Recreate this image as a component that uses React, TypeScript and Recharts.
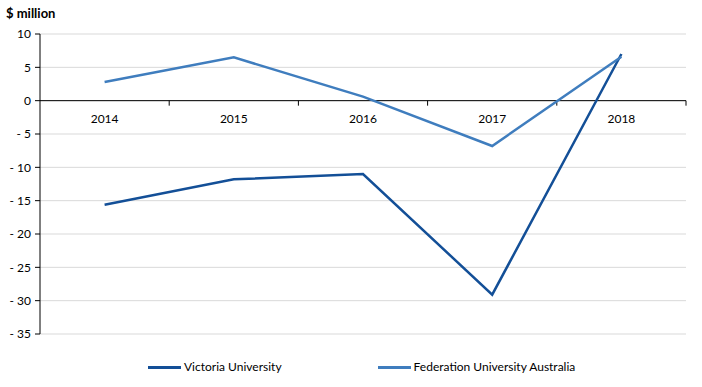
import { LineChart, Line, XAxis, YAxis, CartesianGrid, ReferenceLine } from 'recharts'

const years = ['2014', '2015', '2016', '2017', '2018']
const victoriaUni = [-15.6, -11.8, -11.0, -29.1, 7.0]
const federationUni = [2.8, 6.5, 0.6, -6.8, 6.6]
const yTicks = [-35, -30, -25, -20, -15, -10, -5, 0, 5, 10]

const series = [
  { key: 'vu', name: 'Victoria University', color: '#134F97' },
  { key: 'fu', name: 'Federation University Australia', color: '#3F7DBE' },
]

const data = years.map((year, i) => ({
  year,
  vu: victoriaUni[i],
  fu: federationUni[i],
}))

const FONT = 'Lato, "Liberation Sans", sans-serif'

const formatTick = (v: number) => (v < 0 ? `- ${-v}` : `${v}`)

// category labels and tick marks sit on the zero line, Excel style
const ZeroAxis = (props: any) => {
  const vb = props.viewBox ?? {}
  const x0 = Number(vb.x ?? 0)
  const y0 = Number(vb.y ?? 0)
  const w = Number(vb.width ?? 0)
  const step = w / years.length
  return (
    <g>
      {years.map((_, i) => (
        <line
          key={`t${i}`}
          x1={x0 + step * (i + 1)}
          x2={x0 + step * (i + 1)}
          y1={y0}
          y2={y0 + 5}
          stroke="#000"
          strokeWidth={1}
        />
      ))}
      {years.map((y, i) => (
        <text
          key={y}
          x={x0 + step * (i + 0.5)}
          y={y0 + 22}
          textAnchor="middle"
          fontSize={12}
          fontFamily={FONT}
          fill="#000"
        >
          {y}
        </text>
      ))}
    </g>
  )
}

export default function App() {
  return (
    <div
      style={{
        position: 'absolute',
        left: 0,
        top: 0,
        width: 702,
        height: 387,
        background: '#fff',
        fontFamily: FONT,
      }}
    >
      <div
        style={{
          position: 'absolute',
          left: 6,
          top: 5,
          fontSize: 13,
          fontWeight: 'bold',
          color: '#000',
        }}
      >
        $ million
      </div>

      <LineChart
        width={702}
        height={387}
        data={data}
        margin={{ top: 34, right: 16, bottom: 53, left: 0 }}
      >
        <CartesianGrid vertical={false} stroke="#d9d9d9" strokeWidth={1} />
        <XAxis dataKey="year" type="category" scale="band" hide />
        <YAxis
          type="number"
          domain={[-35, 10]}
          ticks={yTicks}
          interval={0}
          width={40}
          tickFormatter={formatTick}
          axisLine={{ stroke: '#000' }}
          tickLine={{ stroke: '#000' }}
          tickSize={5}
          tickMargin={4}
          tick={{ fill: '#000', fontSize: 12, fontFamily: FONT }}
        />
        <ReferenceLine
          y={0}
          stroke="#000"
          strokeWidth={1}
          label={<ZeroAxis />}
          ifOverflow="visible"
        />
        {series.map((s) => (
          <Line
            key={s.key}
            type="linear"
            dataKey={s.key}
            name={s.name}
            stroke={s.color}
            strokeWidth={2.5}
            dot={false}
            activeDot={false}
            isAnimationActive={false}
          />
        ))}
      </LineChart>

      <div
        style={{
          position: 'absolute',
          left: 148,
          top: 359,
          display: 'flex',
          fontSize: 12,
          color: '#000',
          lineHeight: '16px',
        }}
      >
        {series.map((s, i) => (
          <div
            key={s.key}
            style={{ display: 'flex', alignItems: 'center', marginLeft: i ? 96 : 0 }}
          >
            <span
              style={{
                display: 'inline-block',
                width: 33,
                height: 3,
                background: s.color,
                marginRight: 3,
              }}
            />
            <span>{s.name}</span>
          </div>
        ))}
      </div>
    </div>
  )
}
